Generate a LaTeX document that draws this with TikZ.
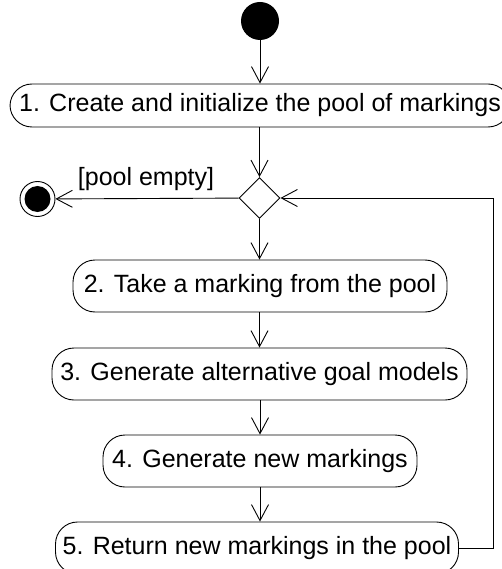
\documentclass[tikz,border=0pt]{standalone}
\usepackage{fontspec}
\setmainfont{Liberation Sans}
\usetikzlibrary{arrows.meta,shapes.geometric}
\begin{document}
\begin{tikzpicture}[x=1pt,y=-1pt,
  every node/.style={font=\fontsize{25}{29}\selectfont, inner sep=0pt},
  action/.style={draw, line width=0.9pt, rounded corners=22pt, minimum height=52pt},
  flow/.style={draw, line width=0.9pt, -{Straight Barb[length=16pt,width=17pt,line width=0.9pt]}},
  initial/.style={circle, fill=black, minimum size=38pt},
  final/.style={circle, draw, line width=0.9pt, minimum size=35pt},
  choice/.style={diamond, draw, line width=0.9pt, minimum width=41pt, minimum height=41pt, aspect=1}]
  \useasboundingbox (0,0) rectangle (501,569);

  \node[initial] (start) at (260,21) {};
  \node[action, minimum width=500pt, minimum height=43pt] (a1) at (260,105.5)
    {1. Create and initialize the pool of markings};
  \node[choice] (dec) at (259.5,198) {};
  \node[final] (stop) at (37.5,199) {};
  \fill (stop) circle (13pt);
  \node (guard) at (146,179) {[pool empty]};
  \node[action, minimum width=374pt] (a2) at (260,286) {2. Take a marking from the pool};
  \node[action, minimum width=415pt] (a3) at (259.5,374) {3. Generate alternative goal models};
  \node[action, minimum width=314pt] (a4) at (260,461) {4. Generate new markings};
  \node[action, minimum width=403pt] (a5) at (257,548) {5. Return new markings in the pool};
  \coordinate (lb) at (493,548);
  \coordinate (lt) at (493,198);

  \draw[flow] (start) -- (a1);
  \draw[flow] (a1.south -| dec) -- (dec);
  \draw[flow] (dec) -- (stop);
  \draw[flow] (dec) -- (a2.north -| dec);
  \draw[flow] (a2.south -| a3) -- (a3);
  \draw[flow] (a3.south -| a4) -- (a4);
  \draw[flow] (a4.south -| a4) -- (a4.south |- a5.north);
  \draw[flow] (a5.east) -- (lb) -- (lt) -- (dec.east);
\end{tikzpicture}
\end{document}
